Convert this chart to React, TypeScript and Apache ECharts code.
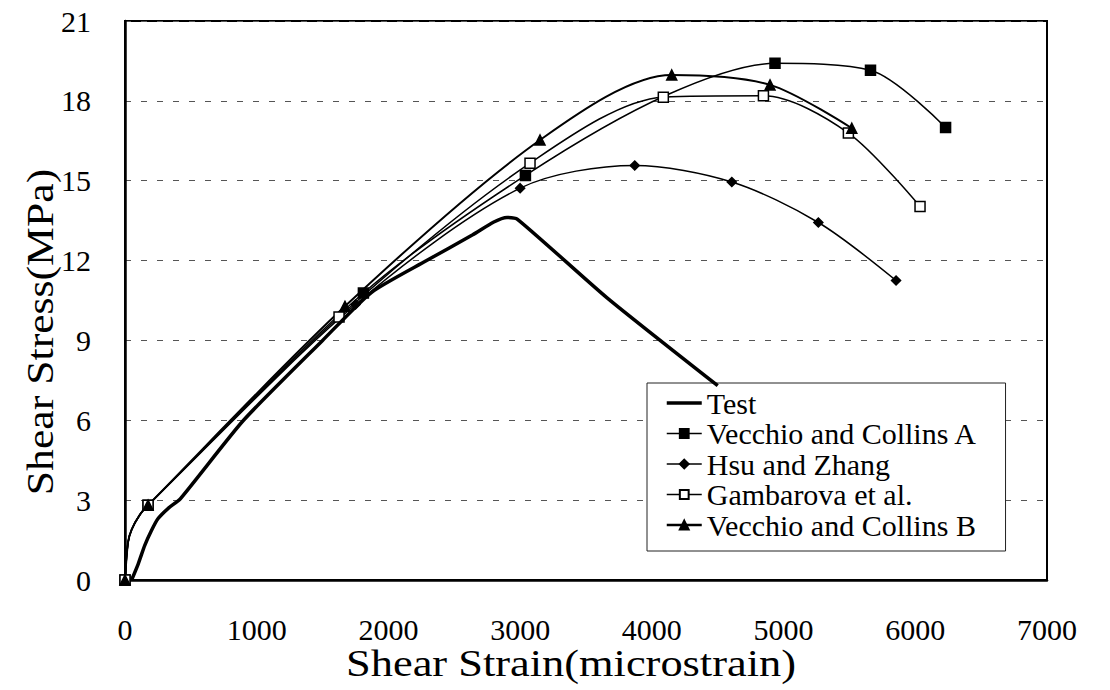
import React, { useEffect, useRef } from "react";
import * as echarts from "echarts";

type P = [number, number];

const FONT = "Liberation Serif, Times New Roman, Times, serif";

const xTicks = { min: 0, max: 7000, interval: 1000 };
const yTicks = { min: 0, max: 21, interval: 3 };

const seriesNames = [
  "Test",
  "Vecchio and Collins A",
  "Hsu and Zhang",
  "Gambarova et al.",
  "Vecchio and Collins B",
];

// Test (measured) curve, no markers
const testData: P[] = [
  [50, 0], [100, 0.6], [150, 1.3], [200, 1.85], [250, 2.3], [330, 2.7], [420, 3.05],
  [900, 6.0], [1500, 9.0], [1870, 10.8], [2290, 12.0], [2640, 12.97], [2800, 13.45],
  [2900, 13.62], [2980, 13.55], [3660, 10.6], [4500, 7.3],
];

// shared initial (uncracked) branch of the model curves, drawn without markers
const modelStartCurve: P[] = [[23, 1.41], [51, 1.9], [114, 2.46]];

// Vecchio and Collins A (filled squares)
const vcaMarked: P[] = [[0, 0], [175, 2.81], [1810, 10.78], [3040, 15.2], [4935, 19.41], [5660, 19.15], [6230, 17.0]];
const vcaCurve: P[] = [[4113, 18.22]];

// Hsu and Zhang (filled diamonds)
const hsuMarked: P[] = [[0, 0], [175, 2.81], [1750, 10.35], [3000, 14.72], [3870, 15.57], [4607, 14.95], [5264, 13.43], [5854, 11.25]];
const hsuCurve: P[] = [];

// Gambarova et al. (open squares)
const gamMarked: P[] = [[0, 0], [175, 2.81], [1625, 9.88], [3075, 15.66], [4087, 18.14], [4847, 18.19], [5492, 16.79], [6036, 14.03]];
const gamCurve: P[] = [];

// Vecchio and Collins B (filled triangles)
const vcbMarked: P[] = [[0, 0], [175, 2.81], [1670, 10.28], [3151, 16.53], [4151, 18.97], [4897, 18.6], [5518, 16.97]];
const vcbCurve: P[] = [];

function build(marked: P[], curve: P[]) {
  const items = [
    ...marked.map((p) => ({ value: p })),
    ...curve.map((p) => ({ value: p, symbol: "none" })),
  ];
  items.sort((a, b) => a.value[0] - b.value[0]);
  return items;
}

export default function App() {
  const ref = useRef<HTMLDivElement>(null);

  useEffect(() => {
    if (!ref.current) return;
    const chart = echarts.init(ref.current, null, { renderer: "svg" });

    const modelLine = (name: string, marked: P[], curve: P[], symbol: string, size: number, width: number, fill: string) => ({
      name,
      type: "line",
      data: build(marked, [...modelStartCurve, ...curve]),
      smooth: 0.3,
      symbol,
      symbolSize: size,
      showAllSymbol: true,
      lineStyle: { color: "#000", width },
      itemStyle: { color: fill, borderColor: "#000", borderWidth: 1.5 },
      z: 3,
    });

    chart.setOption({
      animation: false,
      backgroundColor: "#fff",
      textStyle: { fontFamily: FONT, color: "#000" },
      grid: {
        left: 125,
        top: 21,
        right: 63,
        bottom: 110,
        containLabel: false,
        show: true,
        borderColor: "#000",
        borderWidth: 2,
        backgroundColor: "transparent",
      },
      xAxis: {
        type: "value",
        min: xTicks.min,
        max: xTicks.max,
        interval: xTicks.interval,
        axisLine: { show: true, lineStyle: { color: "#000", width: 2.5 } },
        axisTick: { show: false },
        splitLine: { show: false },
        axisLabel: {
          fontSize: 30,
          fontFamily: FONT,
          color: "#000",
          margin: 34,
          formatter: (v: number) => String(v),
        },
      },
      yAxis: {
        type: "value",
        min: yTicks.min,
        max: yTicks.max,
        interval: yTicks.interval,
        axisLine: { show: true, lineStyle: { color: "#000", width: 2.5 } },
        axisTick: { show: false },
        splitLine: { show: true, lineStyle: { color: "#555", width: 1, type: [6, 10] } },
        axisLabel: {
          fontSize: 30,
          fontFamily: FONT,
          color: "#000",
          margin: 34,
          formatter: (v: number) => String(v),
        },
      },
      legend: {
        data: [
          { name: seriesNames[0], itemStyle: { opacity: 0 }, lineStyle: { width: 3.5, color: "#000" } },
          { name: seriesNames[1], lineStyle: { width: 1.5, color: "#000" } },
          { name: seriesNames[2], lineStyle: { width: 1.5, color: "#000" } },
          { name: seriesNames[3], lineStyle: { width: 1.5, color: "#000" } },
          { name: seriesNames[4], lineStyle: { width: 2.5, color: "#000" } },
        ],
        orient: "vertical",
        left: 647,
        top: 383,
        padding: [5, 28, 11, 18],
        itemGap: 0.5,
        itemWidth: 35,
        itemHeight: 11,
        backgroundColor: "#fff",
        borderColor: "#222",
        borderWidth: 1,
        textStyle: { fontSize: 30, fontFamily: FONT, color: "#000", lineHeight: 30 },
      },
      graphic: [
        {
          type: "text",
          x: 571,
          y: 664,
          scaleX: 1.2,
          style: {
            text: "Shear Strain(microstrain)",
            fontSize: 37,
            fontFamily: FONT,
            fill: "#000",
            align: "center",
            verticalAlign: "middle",
          },
        },
        {
          type: "text",
          x: 40,
          y: 332,
          rotation: Math.PI / 2,
          scaleX: 1.15,
          style: {
            text: "Shear Stress(MPa)",
            fontSize: 38,
            fontFamily: FONT,
            fill: "#000",
            align: "center",
            verticalAlign: "middle",
          },
        },
      ],
      series: [
        {
          name: seriesNames[0],
          type: "line",
          data: testData,
          smooth: 0.2,
          symbol: "none",
          lineStyle: { color: "#000", width: 3.5 },
          itemStyle: { color: "#000" },
          z: 4,
        },
        modelLine(seriesNames[1], vcaMarked, vcaCurve, "rect", 10, 1.5, "#000"),
        modelLine(seriesNames[2], hsuMarked, hsuCurve, "diamond", 9, 1.5, "#000"),
        modelLine(seriesNames[3], gamMarked, gamCurve, "rect", 10, 1.5, "#fff"),
        modelLine(seriesNames[4], vcbMarked, vcbCurve, "triangle", 10, 2, "#000"),
      ],
    });

    return () => chart.dispose();
  }, []);

  return (
    <div
      ref={ref}
      style={{ position: "fixed", left: 0, top: 0, width: 1110, height: 690, background: "#fff" }}
    />
  );
}
